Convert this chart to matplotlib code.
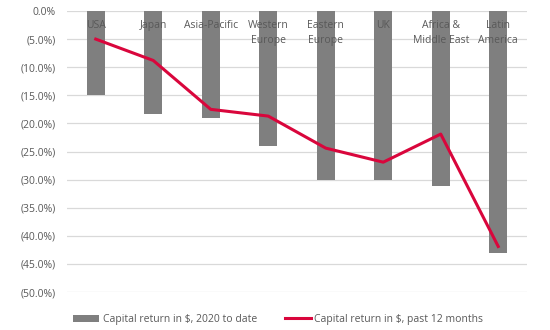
import matplotlib
matplotlib.use("Agg")
import matplotlib.pyplot as plt
import numpy as np

# ---------- data ---------- #
regions = ["USA", "Japan", "Asia-Pacific", "Western\nEurope", "Eastern\nEurope",
           "UK", "Africa &\nMiddle East", "Latin\nAmerica"]
ytd_2020 = [-15.0, -18.4, -19.1, -24.0, -30.1, -30.0, -31.2, -43.1]
past_12m = [-5.0, -8.8, -17.5, -18.7, -24.4, -26.9, -21.9, -41.9]
yticks = [0, -5, -10, -15, -20, -25, -30, -35, -40, -45, -50]

plt.rcParams['font.family'] = ['Open Sans', 'DejaVu Sans']
txt_col = "#595959"

fig = plt.figure(figsize=(5.5, 3.3), dpi=100)
ax = fig.add_axes([67 / 550, 1 - 292 / 330, 460 / 550, 281 / 330])

x = np.arange(len(regions))
bars = ax.bar(x, ytd_2020, width=0.32, color="#7F7F7F", zorder=2,
              label="Capital return in $, 2020 to date")
line, = ax.plot(x, past_12m, color="#D9063C", lw=2.2, zorder=3,
                label="Capital return in $, past 12 months")

ax.set_xlim(-0.5, len(regions) - 0.5)
ax.set_ylim(-50, 0)
ax.set_yticks(yticks)
ax.set_yticklabels(["0.0%" if v == 0 else f"({abs(v):.1f}%)" for v in yticks],
                   fontsize=7.5, color=txt_col)
ax.tick_params(axis="y", length=0, pad=8)
ax.set_xticks([])
ax.grid(axis="y", color="#D9D9D9", lw=0.9, zorder=0)
for s in ax.spines.values():
    s.set_visible(False)

# category labels sit inside the plot, just under the top
for i, name in enumerate(regions):
    ax.text(i, -1.6, name, ha="center", va="top", fontsize=7.5,
            color=txt_col, linespacing=1.5, zorder=4)

fig.legend(handles=[bars, line], loc="lower left", bbox_to_anchor=(64 / 550, -0.013),
           ncol=2, frameon=False, fontsize=7.5, handlelength=2.5, handleheight=0.6,
           handletextpad=0.3, columnspacing=2.7, labelcolor=txt_col)

fig.savefig("out.png", dpi=100)
